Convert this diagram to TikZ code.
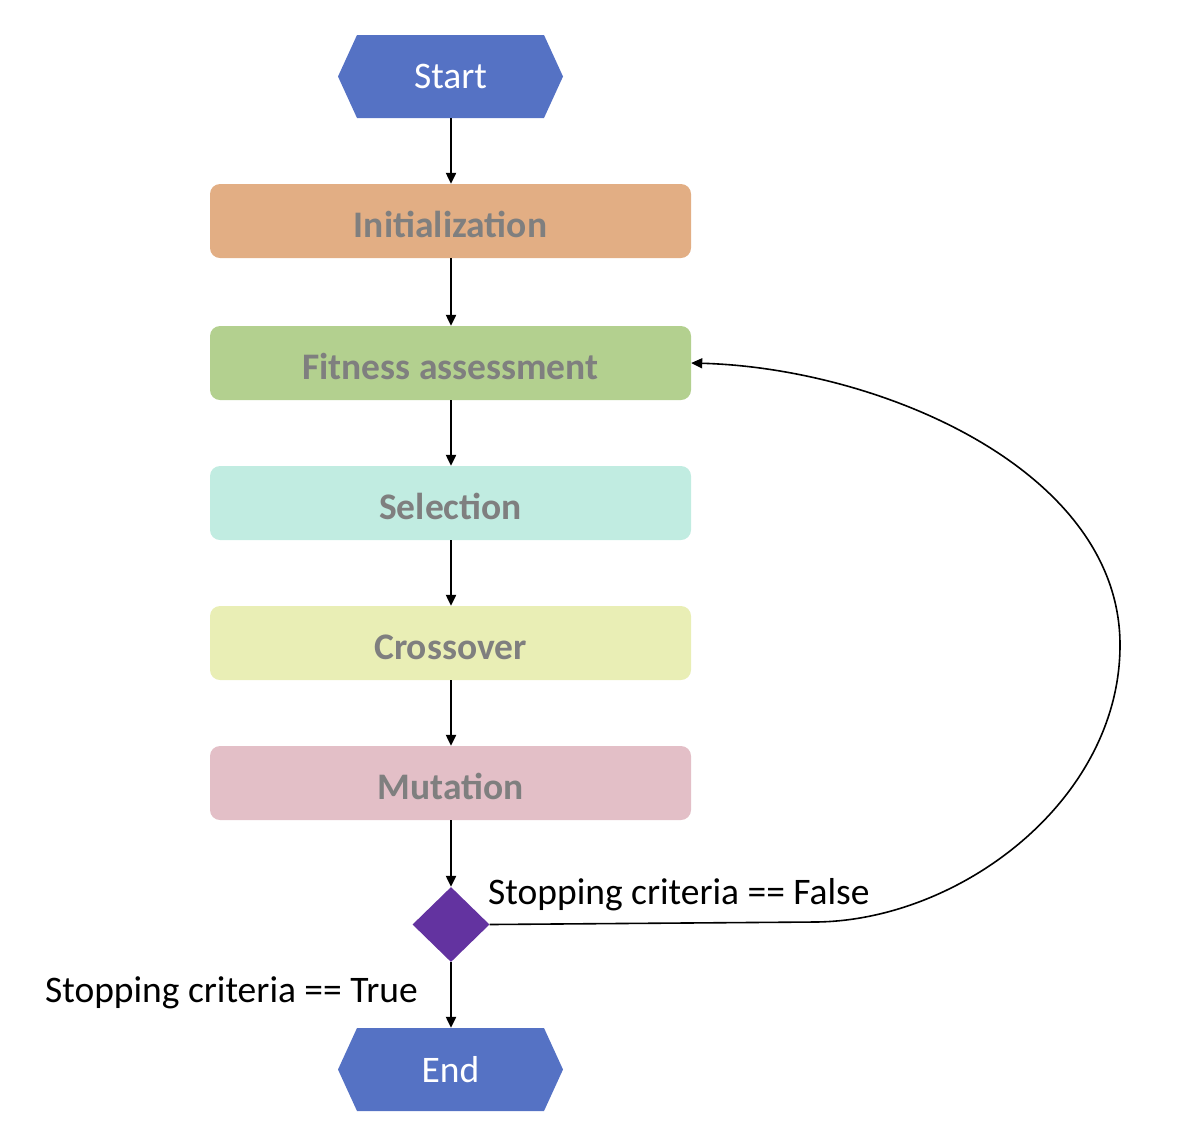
\documentclass[tikz,border=0pt]{standalone}
\usepackage{fontspec}
\setmainfont{Carlito}
\usetikzlibrary{arrows.meta,shapes.geometric}
\definecolor{hexblue}{RGB}{85,114,196}
\definecolor{cinit}{RGB}{226,174,132}
\definecolor{cfit}{RGB}{179,208,143}
\definecolor{csel}{RGB}{193,236,225}
\definecolor{ccross}{RGB}{233,238,181}
\definecolor{cmut}{RGB}{227,191,199}
\definecolor{cdia}{RGB}{99,51,160}
\definecolor{boxtext}{RGB}{127,127,127}
\tikzset{
  hexnode/.style={minimum width=225pt, minimum height=83pt, inner sep=0pt, text=white,
    font=\fontsize{37.5}{44}\selectfont,
    path picture={\fill[hexblue] (path picture bounding box.west)
      -- ([xshift=19pt]path picture bounding box.north west)
      -- ([xshift=-19pt]path picture bounding box.north east)
      -- (path picture bounding box.east)
      -- ([xshift=-19pt]path picture bounding box.south east)
      -- ([xshift=19pt]path picture bounding box.south west) -- cycle;}},
  stepbox/.style={rounded corners=10pt, minimum width=481pt, minimum height=74pt,
    inner sep=0pt, text=boxtext, text height=32pt, text depth=0pt,
    font=\fontsize{37.5}{44}\selectfont\bfseries},
  flow/.style={line width=2.2pt, -{Triangle[length=11pt,width=10pt]}},
  loopline/.style={line width=1.6pt, -{Triangle[length=11pt,width=10pt]}},
  lbl/.style={font=\fontsize{37.5}{44}\selectfont, inner sep=0pt}
}
\begin{document}
\begin{tikzpicture}[x=1pt,y=-1pt]
\useasboundingbox (0,0) rectangle (1177,1120);
\node[hexnode] (start) at (450.5,76.5) {Start};
\node[stepbox, fill=cinit] (init) at (450.5,221) {Initialization};
\node[stepbox, fill=cfit] (fit) at (450.5,363) {Fitness assessment};
\node[stepbox, fill=csel] (sel) at (450.5,503) {Selection};
\node[stepbox, fill=ccross] (cross) at (450.5,643) {Crossover};
\node[stepbox, fill=cmut] (mut) at (450.5,783) {Mutation};
\node[diamond, fill=cdia, minimum width=77pt, minimum height=75pt, inner sep=0pt, aspect=1] (dia) at (451,924.5) {};
\node[hexnode] (end) at (450.5,1069.5) {End};
\node[lbl, anchor=base west] (lf) at (488,904) {Stopping criteria == False};
\node[lbl, anchor=base east] (lt) at (418,1002) {Stopping criteria == True};
\draw[flow] (start.south -| dia.north) -- (init.north -| dia.north);
\draw[flow] (init.south -| dia.north) -- (fit.north -| dia.north);
\draw[flow] (fit.south -| dia.north) -- (sel.north -| dia.north);
\draw[flow] (sel.south -| dia.north) -- (cross.north -| dia.north);
\draw[flow] (cross.south -| dia.north) -- (mut.north -| dia.north);
\draw[flow] (mut.south -| dia.north) -- (dia.north);
\draw[flow] (dia.south) -- (end.north -| dia.south);
\coordinate (c1) at (815,922);
\coordinate (c2) at (1120,645);
\draw[loopline] (dia.east) -- (c1) .. controls (960,921) and (1120,800) .. (c2)
  .. controls (1120,470) and (880,368) .. (fit.east);
\end{tikzpicture}
\end{document}
